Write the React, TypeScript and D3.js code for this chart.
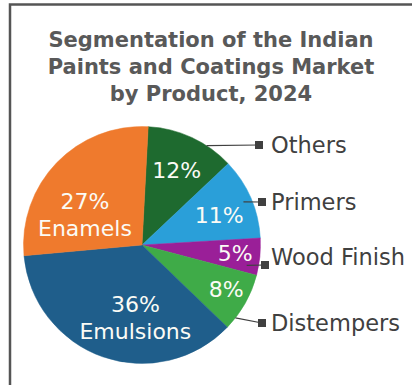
import React from "react";
import * as d3 from "d3";

const categories = ["Others", "Primers", "Wood Finish", "Distempers", "Emulsions", "Enamels"];
const shares = [12, 11, 5, 8, 36, 27];
const sliceColors = ["#1e6a2f", "#2a9fd9", "#9a1f98", "#3fab48", "#1f5e8b", "#ef7a2d"];
const sliceNames = ["", "", "", "", "Emulsions", "Enamels"];
// label placement (polar, relative to pie): radius fraction and angle shift in degrees
const labelRadius = [0.7, 0.7, 0.79, 0.8, 0.6, 0.55];
const labelShift = [0, 2, -1, -2, -14, -15];
// callout legend rows (right side): y of text, leader start angle/radius, square offset
const calloutY = [145, 202, 257, 323];
const calloutSquareDx = [-3, 0, 3, 0];
const calloutSquareDy = [0, 0, 8, 0];
const leaderAngle = [33, 67, 101, 128];
const leaderRadius = [1.0, 0.93, 0.9, 1.0];
const titleLines = ["Segmentation of the Indian", "Paints and Coatings Market", "by Product, 2024"];

const W = 412;
const H = 385;
const cx = 142;
const cy = 245;
const R = 118.5;
const startDeg = 3;

export default function App() {
  const pie = d3
    .pie<number>()
    .sort(null)
    .value((d) => d)
    .startAngle((startDeg * Math.PI) / 180)
    .endAngle(((startDeg + 360) * Math.PI) / 180);
  const arcs = pie(shares);
  const arc = d3.arc<d3.PieArcDatum<number>>().innerRadius(0).outerRadius(R);

  const polar = (deg: number, r: number): [number, number] => {
    const a = (deg * Math.PI) / 180;
    return [cx + r * Math.sin(a), cy - r * Math.cos(a)];
  };

  const font = "'DejaVu Sans', Verdana, sans-serif";

  return (
    <svg
      width={W}
      height={H}
      viewBox={`0 0 ${W} ${H}`}
      style={{ position: "absolute", left: 0, top: 0, background: "#fff" }}
    >
      <rect x={0} y={0} width={W} height={H} fill="#fff" />
      <path d={`M10,${H + 5} L10,4.5 L${W + 5},4.5`} fill="none" stroke="#555" strokeWidth={2.5} />

      {titleLines.map((t, i) => (
        <text
          key={t}
          x={211}
          y={47 + i * 27}
          textAnchor="middle"
          fontFamily={font}
          fontWeight="bold"
          fontSize={21}
          fill="#595959"
        >
          {t}
        </text>
      ))}

      <g transform={`translate(${cx},${cy})`}>
        {arcs.map((a, i) => (
          <path key={categories[i]} d={arc(a) || ""} fill={sliceColors[i]} stroke={sliceColors[i]} strokeWidth={0.5} />
        ))}
      </g>

      {arcs.map((a, i) => {
        const mid = ((a.startAngle + a.endAngle) / 2) * (180 / Math.PI) + labelShift[i];
        const [x, y] = polar(mid, R * labelRadius[i]);
        const pct = `${shares[i]}%`;
        const name = sliceNames[i];
        return (
          <text
            key={"l" + i}
            x={x}
            y={y}
            textAnchor="middle"
            fontFamily={font}
            fontSize={22}
            fill="#fbfbf5"
          >
            {name ? (
              <>
                <tspan x={x} dy={-4}>{pct}</tspan>
                <tspan x={x} dy={27}>{name}</tspan>
              </>
            ) : (
              <tspan x={x} dy={8}>{pct}</tspan>
            )}
          </text>
        );
      })}

      {calloutY.map((y, i) => {
        const [sx, sy] = polar(leaderAngle[i], R * leaderRadius[i]);
        const sqX = 262 + calloutSquareDx[i];
        const sqY = y + calloutSquareDy[i];
        return (
          <g key={"c" + i}>
            <line x1={sx} y1={sy} x2={sqX} y2={sqY} stroke="#404040" strokeWidth={1.2} />
            <rect x={sqX - 4} y={sqY - 4} width={8} height={8} fill="#404040" />
            <text x={271} y={y + 8} fontFamily={font} fontSize={22.5} fill="#404040">
              {categories[i]}
            </text>
          </g>
        );
      })}
    </svg>
  );
}
